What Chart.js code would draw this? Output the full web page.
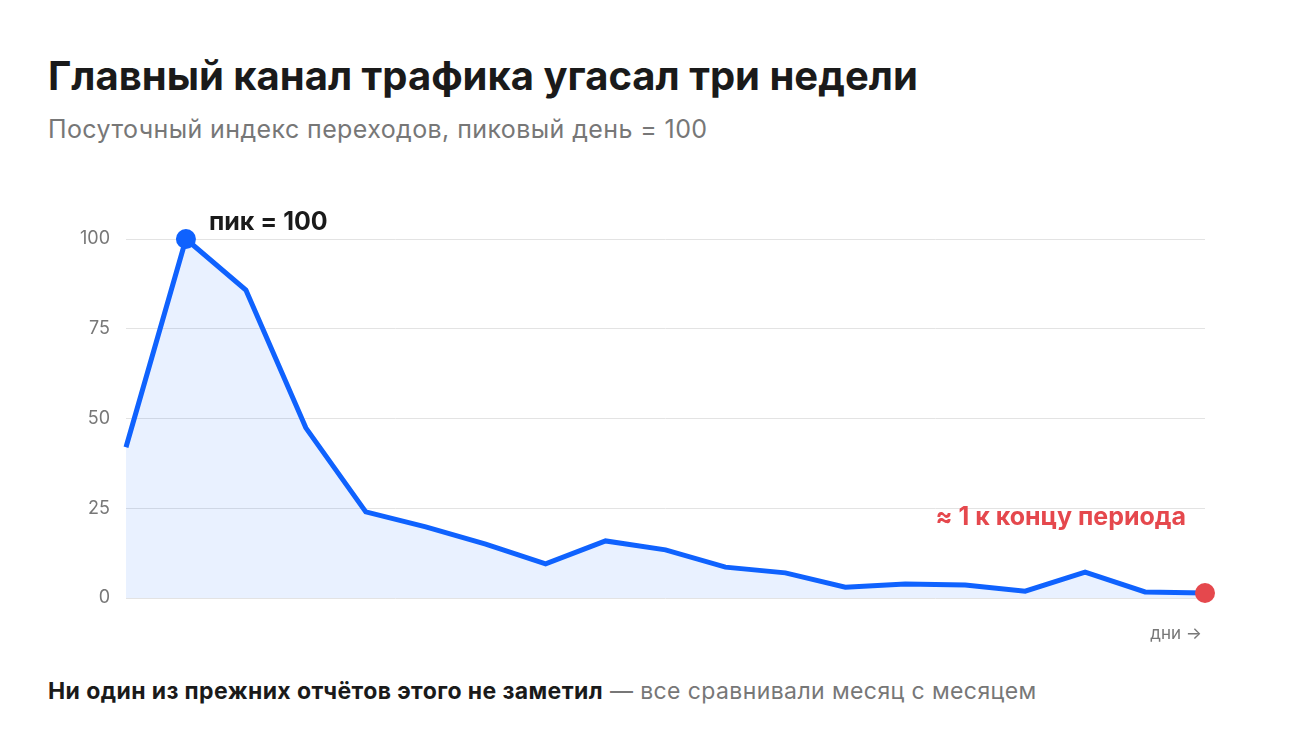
<!DOCTYPE html>
<html><head><meta charset="utf-8">
<script src="https://cdn.jsdelivr.net/npm/chart.js@4/dist/chart.umd.min.js"></script>
<style>
body{margin:0;width:1300px;height:753px;background:#fff;font-family:Inter,"Noto Sans",sans-serif;overflow:hidden;position:relative}
#c{position:absolute;left:0;top:0}
.t{position:absolute;left:48px;white-space:nowrap}
</style></head><body>
<div class="t" style="top:51px;font-size:40px;font-weight:700;color:#1a1a1a;letter-spacing:0px">Главный канал трафика угасал три недели</div>
<div class="t" style="top:114px;font-size:25px;color:#777;letter-spacing:0.4px">Посуточный индекс переходов, пиковый день = 100</div>
<div class="t" style="top:677px;font-size:23px;color:#1a1a1a;letter-spacing:0.4px"><b>Ни один из прежних отчётов этого не заметил</b> <span style="color:#777">— все сравнивали месяц с месяцем</span></div>
<canvas id="c" width="1300" height="753"></canvas>
<script>
const days = Array.from({length:19},(_,i)=>String(i+1));
const values = [42,100,85.8,47.4,24,19.8,15,9.5,15.9,13.4,8.6,7,3,3.9,3.6,1.9,7.2,1.7,1.4];
const yTicks = [0,25,50,75,100];
const peakLabel = "пик = 100";
const endLabel = "≈ 1 к концу периода";
const axisLabel = "дни →";
const n = values.length;
const notes = {id:'notes',afterDatasetsDraw(ch){
  const c=ch.ctx,x=ch.scales.x,y=ch.scales.y;
  c.save();
  c.font='700 25px Inter';c.fillStyle='#1a1a1a';c.textAlign='left';c.textBaseline='middle';
  c.fillText(peakLabel,x.getPixelForValue(1)+23,y.getPixelForValue(100)-17);
  c.fillStyle='#e5484d';c.textAlign='right';
  c.fillText(endLabel,x.getPixelForValue(n-1)-19,y.getPixelForValue(22.5));
  c.font='17px Inter';c.fillStyle='#777';
  c.fillText(axisLabel,x.getPixelForValue(n-1)-3,y.getPixelForValue(0)+36);
  c.restore();}};
new Chart(document.getElementById('c'),{
  type:'line',
  data:{labels:days,datasets:[{data:values,borderColor:'#0f62fe',borderWidth:5,clip:false,
    backgroundColor:'rgba(15,98,254,0.09)',fill:'origin',tension:0,
    pointRadius:values.map((v,i)=>i===1||i===n-1?10:0),
    pointBackgroundColor:values.map((v,i)=>i===n-1?'#e5484d':'#0f62fe'),
    pointBorderWidth:0}]},
  options:{responsive:false,animation:false,
    layout:{padding:{left:0,right:95,top:239,bottom:155}},
    plugins:{legend:{display:false},tooltip:{enabled:false}},
    scales:{
      x:{display:false,offset:false},
      y:{min:0,max:100,afterFit(s){s.width=126;},
        afterBuildTicks(s){s.ticks=yTicks.map(v=>({value:v}));},
        border:{display:false},
        grid:{color:'#e3e3e3',drawTicks:false,lineWidth:1},
        ticks:{padding:16,color:'#777',font:{family:'Inter',size:18}}}}},
  plugins:[notes]});
</script></body></html>
